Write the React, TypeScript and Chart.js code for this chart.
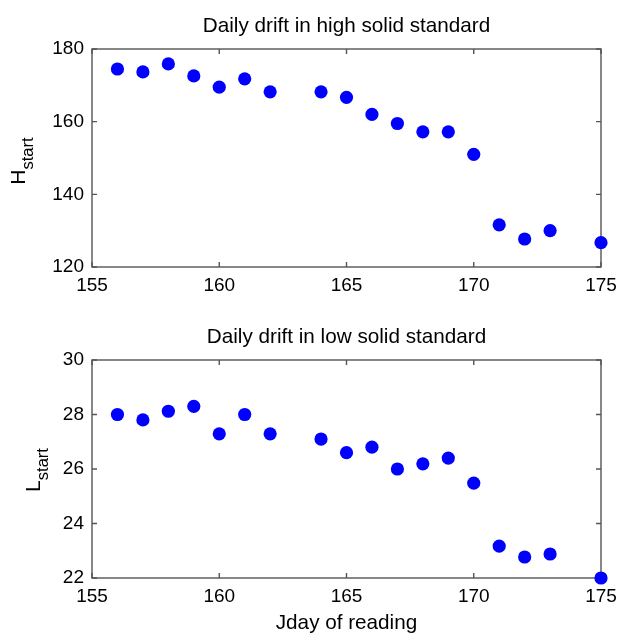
import React, { useEffect, useRef } from "react";
import { Chart, registerables } from "chart.js";

Chart.register(...registerables);

// ---- data ----
const jdays = [156, 157, 158, 159, 160, 161, 162, 164, 165, 166, 167, 168, 169, 170, 171, 172, 173, 175];
const highStart = [174.5, 173.7, 175.9, 172.6, 169.5, 171.8, 168.2, 168.2, 166.7, 162.0, 159.5, 157.2, 157.2, 151.0, 131.6, 127.7, 130.0, 126.7];
const lowStart = [28.0, 27.8, 28.12, 28.3, 27.29, 28.0, 27.29, 27.1, 26.6, 26.8, 26.0, 26.19, 26.4, 25.48, 23.17, 22.77, 22.88, 22.0];
const xTicks = [155, 160, 165, 170, 175];
const highTicks = [120, 140, 160, 180];
const lowTicks = [22, 24, 26, 28, 30];
const highTitle = "Daily drift in high solid standard";
const lowTitle = "Daily drift in low solid standard";
const highLabelMain = "H";
const lowLabelMain = "L";
const labelSub = "start";
const xAxisTitle = "Jday of reading";

const FONT = '"Liberation Sans", Arial, Helvetica, sans-serif';

type PanelSpec = {
  values: number[];
  ticks: number[];
  title: string;
  yMain: string;
  ySub: string;
  labelBaseline: number;
  labelShift: number;
  xTitle?: string;
  height: number;
};

function buildChart(canvas: HTMLCanvasElement, spec: PanelSpec) {
  const boxPlugin = {
    id: "matlabBox",
    beforeDatasetsDraw(chart: any) {
      const { ctx, chartArea: a, scales } = chart;
      ctx.save();
      ctx.strokeStyle = "#555555";
      ctx.lineWidth = 1.4;
      ctx.strokeRect(a.left, a.top, a.right - a.left, a.bottom - a.top);
      const L = 5;
      ctx.beginPath();
      for (const v of xTicks) {
        const px = scales.x.getPixelForValue(v);
        ctx.moveTo(px, a.bottom);
        ctx.lineTo(px, a.bottom - L);
        ctx.moveTo(px, a.top);
        ctx.lineTo(px, a.top + L);
      }
      for (const v of spec.ticks) {
        const py = scales.y.getPixelForValue(v);
        ctx.moveTo(a.left, py);
        ctx.lineTo(a.left + L, py);
        ctx.moveTo(a.right, py);
        ctx.lineTo(a.right - L, py);
      }
      ctx.stroke();
      ctx.restore();
    },
    afterDraw(chart: any) {
      const { ctx, chartArea: a } = chart;
      const cx = (a.left + a.right) / 2;
      ctx.save();
      ctx.fillStyle = "#000";
      ctx.textAlign = "center";
      ctx.textBaseline = "alphabetic";
      ctx.font = `20.7px ${FONT}`;
      ctx.fillText(spec.title, cx, a.top - 17);
      if (spec.xTitle) {
        ctx.fillText(spec.xTitle, cx, a.bottom + 51);
      }
      // rotated y label with subscript
      const mainFont = `21px ${FONT}`;
      const subFont = `16.5px ${FONT}`;
      ctx.font = mainFont;
      const wMain = ctx.measureText(spec.yMain).width;
      ctx.font = subFont;
      const wSub = ctx.measureText(spec.ySub).width;
      const total = wMain + wSub;
      const cy = (a.top + a.bottom) / 2 + spec.labelShift;
      ctx.translate(spec.labelBaseline, cy);
      ctx.rotate(-Math.PI / 2);
      ctx.textAlign = "left";
      ctx.font = mainFont;
      ctx.fillText(spec.yMain, -total / 2, 0);
      ctx.font = subFont;
      ctx.fillText(spec.ySub, -total / 2 + wMain, 8);
      ctx.restore();
    },
  };

  const tickFont = { family: FONT, size: 19 };
  return new Chart(canvas, {
    type: "scatter",
    data: {
      datasets: [
        {
          data: jdays.map((d, i) => ({ x: d, y: spec.values[i] })),
          backgroundColor: "#0000ff",
          borderWidth: 0,
          pointRadius: 6.6,
          pointHoverRadius: 6.6,
          clip: false as any,
        },
      ],
    },
    options: {
      responsive: false,
      animation: false,
      events: [],
      layout: { padding: { left: 0, right: 18, top: 49, bottom: spec.height - 267 - 30 } },
      plugins: { legend: { display: false }, tooltip: { enabled: false }, title: { display: false } },
      scales: {
        x: {
          type: "linear",
          min: xTicks[0],
          max: xTicks[xTicks.length - 1],
          afterBuildTicks: (s: any) => {
            s.ticks = xTicks.map((v) => ({ value: v }));
          },
          afterFit: (s: any) => {
            s.height = 30;
            s.paddingLeft = 0;
            s.paddingRight = 0;
          },
          grid: { display: false, drawTicks: false },
          border: { display: false },
          ticks: { font: tickFont, color: "#000", padding: 7, maxRotation: 0, autoSkip: false },
        },
        y: {
          type: "linear",
          min: spec.ticks[0],
          max: spec.ticks[spec.ticks.length - 1],
          afterBuildTicks: (s: any) => {
            s.ticks = spec.ticks.map((v) => ({ value: v }));
          },
          afterFit: (s: any) => {
            s.width = 92;
            s.paddingTop = 0;
            s.paddingBottom = 0;
          },
          grid: { display: false, drawTicks: false },
          border: { display: false },
          ticks: { font: tickFont, color: "#000", padding: 8, autoSkip: false },
        },
      },
    },
    plugins: [boxPlugin],
  } as any);
}

function Panel({ spec }: { spec: PanelSpec }) {
  const ref = useRef<HTMLCanvasElement | null>(null);
  useEffect(() => {
    if (!ref.current) return;
    const chart = buildChart(ref.current, spec);
    return () => chart.destroy();
  }, [spec]);
  return <canvas ref={ref} width={619} height={spec.height} style={{ display: "block", width: 619, height: spec.height }} />;
}

const topSpec: PanelSpec = {
  values: highStart,
  ticks: highTicks,
  title: highTitle,
  yMain: highLabelMain,
  ySub: labelSub,
  labelBaseline: 25,
  labelShift: 3,
  height: 311,
};

const bottomSpec: PanelSpec = {
  values: lowStart,
  ticks: lowTicks,
  title: lowTitle,
  yMain: lowLabelMain,
  ySub: labelSub,
  labelBaseline: 40,
  labelShift: 1,
  xTitle: xAxisTitle,
  height: 322,
};

export default function App() {
  return (
    <div style={{ position: "absolute", left: 0, top: 0, width: 619, height: 633, background: "#fff", overflow: "hidden" }}>
      <Panel spec={topSpec} />
      <Panel spec={bottomSpec} />
    </div>
  );
}
